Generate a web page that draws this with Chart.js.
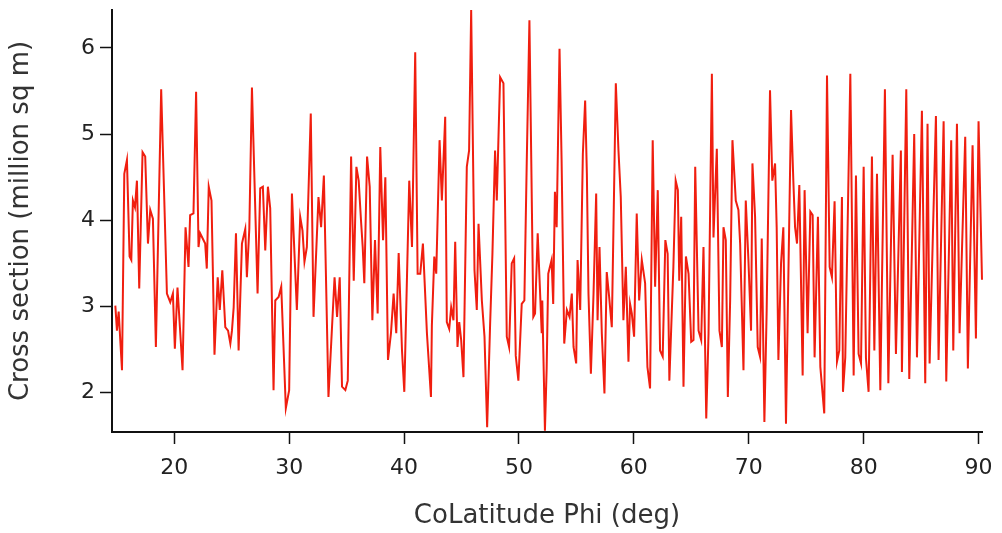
<!DOCTYPE html>
<html>
<head>
<meta charset="utf-8">
<script src="https://cdn.jsdelivr.net/npm/chart.js@4.4.1/dist/chart.umd.min.js"></script>
<style>
   html, body { margin: 0; padding: 0; background: #fff; }
   #wrap { width: 1002px; height: 533px; }
</style>
</head>
<body>
<div id="wrap"><canvas id="chart" width="1002" height="533"></canvas></div>
<script>
// colatitude (deg)
const phi = [
   14.87, 15.01, 15.16, 15.45, 15.65, 15.88, 16.11, 16.26, 16.40, 16.58,
   16.75, 16.95, 17.24, 17.47, 17.71, 17.91, 18.14, 18.40, 18.86, 19.36,
   19.65, 19.88, 20.05, 20.28, 20.72, 20.98, 21.24, 21.38, 21.67, 21.90,
   22.11, 22.25, 22.69, 22.83, 23.00, 23.24, 23.50, 23.78, 23.96, 24.18,
   24.44, 24.68, 24.88, 25.02, 25.17, 25.37, 25.60, 25.89, 26.18, 26.32,
   26.53, 26.76, 27.25, 27.48, 27.71, 27.92, 28.15, 28.35, 28.64, 28.79,
   29.08, 29.31, 29.71, 30.00, 30.24, 30.67, 30.96, 31.16, 31.33, 31.54,
   31.88, 32.12, 32.55, 32.78, 33.02, 33.42, 33.95, 34.17, 34.40, 34.60,
   34.89, 35.10, 35.39, 35.62, 35.85, 36.05, 36.25, 36.40, 36.54, 36.78,
   37.01, 37.24, 37.47, 37.70, 37.93, 38.17, 38.37, 38.60, 38.86, 39.09,
   39.32, 39.53, 39.82, 40.02, 40.45, 40.69, 40.97, 41.18, 41.41, 41.64,
   41.99, 42.34, 42.42, 42.63, 42.80, 43.09, 43.29, 43.58, 43.72, 43.93,
   44.10, 44.30, 44.45, 44.65, 44.80, 44.97, 45.17, 45.46, 45.66, 45.84,
   46.13, 46.33, 46.48, 46.77, 47.00, 47.23, 47.49, 47.69, 47.92, 48.07,
   48.21, 48.36, 48.65, 48.94, 49.14, 49.37, 49.58, 49.72, 49.95, 50.24,
   50.47, 50.68, 50.91, 51.25, 51.40, 51.63, 51.98, 52.03, 52.26, 52.41,
   52.55, 52.84, 52.98, 53.13, 53.28, 53.53, 53.71, 53.94, 54.17, 54.40,
   54.60, 54.75, 54.98, 55.10, 55.33, 55.56, 55.76, 55.91, 56.05, 56.26,
   56.49, 56.72, 56.84, 57.01, 57.21, 57.44, 57.64, 57.85, 58.08, 58.22,
   58.43, 58.66, 58.86, 59.09, 59.30, 59.53, 59.67, 59.82, 60.02, 60.25,
   60.46, 60.69, 60.98, 61.18, 61.41, 61.64, 61.85, 62.08, 62.28, 62.51,
   62.74, 62.94, 63.09, 63.44, 63.64, 63.83, 63.95, 64.12, 64.32, 64.53,
   64.76, 64.99, 65.19, 65.34, 65.63, 65.86, 66.06, 66.30, 66.50, 66.79,
   66.93, 67.22, 67.45, 67.66, 67.80, 68.00, 68.18, 68.38, 68.58, 68.87,
   69.10, 69.25, 69.54, 69.74, 69.97, 70.20, 70.32, 70.55, 70.78, 70.98,
   71.13, 71.36, 71.56, 71.85, 72.05, 72.29, 72.43, 72.58, 72.81, 73.01,
   73.24, 73.68, 73.88, 74.03, 74.20, 74.40, 74.69, 74.86, 75.12, 75.36,
   75.56, 75.73, 76.02, 76.23, 76.57, 76.81, 77.04, 77.24, 77.47, 77.68,
   77.88, 78.11, 78.20, 78.40, 78.84, 79.13, 79.33, 79.56, 79.77, 80.00,
   80.20, 80.43, 80.72, 80.93, 81.16, 81.45, 81.85, 82.15, 82.52, 82.81,
   83.24, 83.33, 83.71, 83.97, 84.40, 84.64, 85.07, 85.36, 85.56, 85.74,
   86.29, 86.52, 86.96, 87.19, 87.62, 87.80, 88.12, 88.35, 88.84, 89.07,
   89.48, 89.77, 90.00, 90.30, 90.42,
];

// cross section (million sq m)
const crossSection = [
   3.01, 2.72, 2.94, 2.26, 4.54, 4.70, 3.58, 3.54, 4.23, 4.15,
   4.46, 3.21, 4.79, 4.74, 3.73, 4.12, 4.02, 2.53, 5.52, 3.15,
   3.05, 3.15, 2.51, 3.22, 2.26, 3.92, 3.46, 4.06, 4.08, 5.49,
   3.69, 3.85, 3.73, 3.44, 4.39, 4.23, 2.44, 3.34, 2.96, 3.42,
   2.76, 2.72, 2.57, 2.72, 2.99, 3.85, 2.49, 3.73, 3.90, 3.34,
   3.90, 5.54, 3.15, 4.37, 4.39, 3.65, 4.39, 4.14, 2.03, 3.07,
   3.11, 3.23, 1.82, 2.03, 4.31, 2.96, 4.04, 3.88, 3.52, 3.69,
   5.24, 2.88, 4.27, 3.92, 4.52, 1.95, 3.34, 2.88, 3.34, 2.07,
   2.03, 2.14, 4.74, 3.30, 4.62, 4.46, 4.00, 3.69, 3.27, 4.74,
   4.39, 2.84, 3.77, 2.92, 4.85, 3.77, 4.50, 2.38, 2.69, 3.15,
   2.69, 3.62, 2.49, 2.01, 4.46, 3.69, 5.95, 3.38, 3.38, 3.73,
   2.69, 1.95, 2.78, 3.58, 3.38, 4.93, 4.23, 5.20, 2.82, 2.74,
   2.99, 2.84, 3.75, 2.53, 2.82, 2.61, 2.18, 4.62, 4.81, 6.44,
   3.42, 2.96, 3.96, 3.07, 2.65, 1.60, 2.80, 3.61, 4.81, 4.23,
   4.93, 5.66, 5.59, 2.65, 2.53, 3.50, 3.56, 2.43, 2.14, 3.03,
   3.07, 4.70, 6.32, 2.88, 2.92, 3.85, 2.69, 3.07, 1.56, 2.28,
   3.38, 3.54, 3.03, 4.33, 3.92, 5.99, 4.70, 2.57, 2.96, 2.88,
   3.15, 2.53, 2.34, 3.54, 2.96, 4.77, 5.39, 4.54, 3.15, 2.22,
   3.15, 4.31, 2.84, 3.69, 2.69, 1.99, 3.40, 3.11, 2.76, 3.88,
   5.59, 4.81, 4.27, 2.84, 3.46, 2.36, 3.03, 2.92, 2.65, 4.08,
   3.07, 3.54, 3.27, 2.30, 2.05, 4.93, 3.23, 4.35, 2.49, 2.42,
   3.77, 3.61, 2.14, 3.46, 4.46, 4.35, 3.30, 4.04, 2.07, 3.58,
   3.38, 2.59, 2.61, 4.62, 2.72, 2.61, 3.69, 1.70, 2.69, 5.70,
   3.80, 4.83, 2.72, 2.53, 3.92, 3.77, 1.95, 3.07, 4.93, 4.23,
   4.12, 3.73, 2.26, 4.23, 3.54, 2.72, 4.66, 4.04, 2.53, 2.42,
   3.79, 1.66, 2.96, 5.51, 4.46, 4.66, 3.92, 2.38, 3.50, 3.92,
   1.64, 5.28, 4.46, 3.92, 3.73, 4.41, 2.20, 4.35, 2.69, 4.10,
   4.06, 2.41, 4.04, 2.30, 1.76, 5.68, 3.46, 3.34, 4.22, 2.36,
   2.49, 4.27, 2.01, 2.41, 5.70, 2.20, 4.52, 2.45, 2.34, 4.62,
   2.40, 2.01, 4.74, 2.49, 4.54, 2.03, 5.52, 2.11, 4.76, 2.45,
   4.81, 2.24, 5.52, 2.16, 5.00, 2.41, 5.27, 2.11, 5.12, 2.34,
   5.21, 2.38, 5.15, 2.13, 4.93, 2.49, 5.12, 2.69, 4.97, 2.28,
   4.87, 2.63, 5.15, 3.31, 2.28,
];

const xTicks = [20, 30, 40, 50, 60, 70, 80, 90];
const yTicks = [2, 3, 4, 5, 6];

const FONT = "'DejaVu Sans', Verdana, sans-serif";

const axisStyle = {
   grid: {
      drawOnChartArea: false,
      drawTicks: true,
      tickLength: 12,
      tickColor: "#111",
      tickWidth: 1.5,
   },
   border: { display: true, color: "#111", width: 2 },
};

const config = {
   type: "line",
   data: {
      datasets: [
         {
            data: phi.map((x, i) => ({ x: x, y: crossSection[i] })),
            borderColor: "rgb(240, 30, 15)",
            borderWidth: 2,
            pointRadius: 0,
            tension: 0,
            clip: false,
         },
      ],
   },
   options: {
      responsive: false,
      animation: false,
      events: [],
      layout: { padding: { top: 10, right: 20, bottom: 0, left: 0 } },
      plugins: { legend: { display: false }, tooltip: { enabled: false } },
      scales: {
         x: {
            type: "linear",
            min: 14.58,
            max: 90.3,
            ...axisStyle,
            afterBuildTicks: (scale) => {
               scale.ticks = xTicks.map((v) => ({ value: v }));
            },
            afterFit: (scale) => {
               scale.height = 101;
               scale.paddingLeft = 0;
               scale.paddingRight = 0;
            },
            ticks: {
               color: "#222",
               padding: 11,
               maxRotation: 0,
               font: { family: FONT, size: 22 },
            },
            title: {
               display: true,
               text: "CoLatitude Phi (deg)",
               color: "#333",
               padding: { top: 0, bottom: 1 },
               font: { family: FONT, size: 26 },
            },
         },
         y: {
            type: "linear",
            min: 1.544,
            max: 6.44,
            ...axisStyle,
            afterBuildTicks: (scale) => {
               scale.ticks = yTicks.map((v) => ({ value: v }));
            },
            afterFit: (scale) => {
               scale.width = 112;
               scale.paddingTop = 0;
               scale.paddingBottom = 0;
            },
            ticks: {
               color: "#222",
               padding: 5,
               font: { family: FONT, size: 22 },
            },
            title: {
               display: true,
               text: "Cross section (million sq m)",
               color: "#333",
               padding: { top: 6, bottom: 0 },
               font: { family: FONT, size: 26 },
            },
         },
      },
   },
};

const myChart = new Chart(document.getElementById("chart"), config);
</script>
</body>
</html>
